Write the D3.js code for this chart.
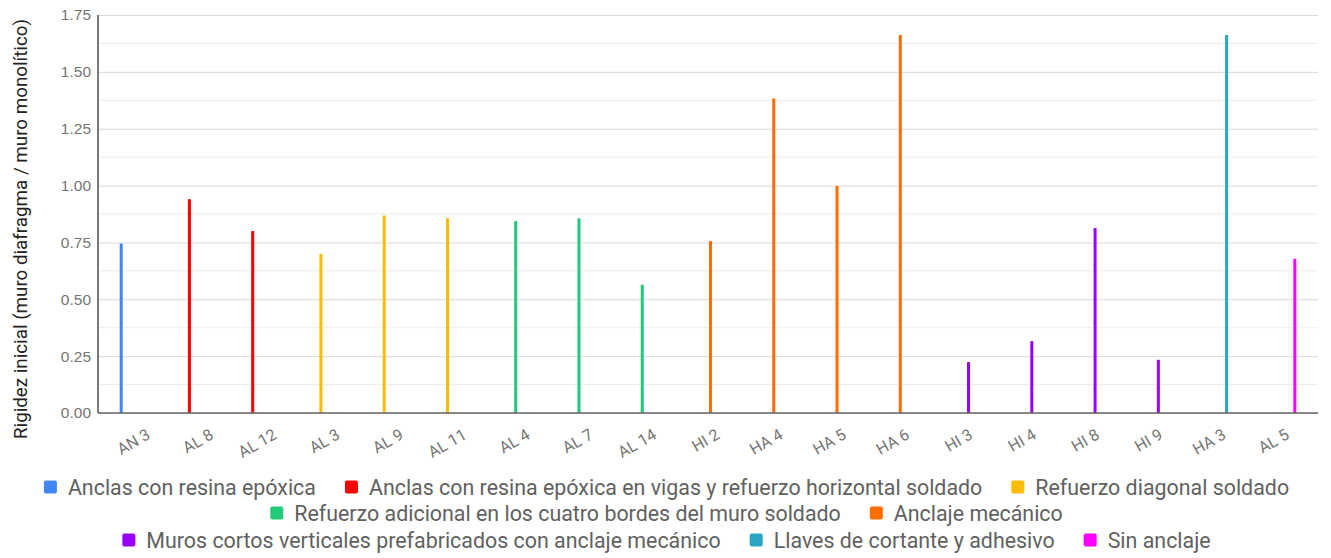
<!DOCTYPE html>
<html lang="es">
<head>
<meta charset="UTF-8">
<title>Rigidez inicial</title>
<script src="https://d3js.org/d3.v7.min.js"></script>
<style>
  body { margin: 0; background: #fff; }
  svg { font-family: Roboto, "Noto Sans", sans-serif; display: block; }
</style>
</head>
<body>
<div id="container"></div>
<script>
// data
const categories = ["AN 3","AL 8","AL 12","AL 3","AL 9","AL 11","AL 4","AL 7","AL 14","HI 2","HA 4","HA 5","HA 6","HI 3","HI 4","HI 8","HI 9","HA 3","AL 5"];
const seriesNames = [
  "Anclas con resina epóxica",
  "Anclas con resina epóxica en vigas y refuerzo horizontal soldado",
  "Refuerzo diagonal soldado",
  "Refuerzo adicional en los cuatro bordes del muro soldado",
  "Anclaje mecánico",
  "Muros cortos verticales prefabricados con anclaje mecánico",
  "Llaves de cortante y adhesivo",
  "Sin anclaje"
];
const seriesColors = ["#4285f4","#ff0000","#fbbc04","#22c97a","#ff6d01","#9900ff","#2aa5c4","#ff00ff"];
// which series each category belongs to, and its value
const categorySeries = [0,1,1,2,2,2,3,3,3,4,4,4,4,5,5,5,5,6,7];
const values = [0.745,0.94,0.80,0.70,0.868,0.856,0.844,0.856,0.564,0.756,1.383,0.998,1.662,0.224,0.316,0.813,0.234,1.662,0.678];
const yTicks = [0,0.25,0.5,0.75,1,1.25,1.5,1.75];

const W = 1331, H = 558;
const margin = {top: 15, right: 13, bottom: 145, left: 98};
const plotBottom = H - margin.bottom;

const svg = d3.select("#container").append("svg").attr("width", W).attr("height", H);

const x0 = d3.scaleBand().domain(categories)
  .range([margin.left, W - margin.right])
  .paddingInner(0).paddingOuter(0.14);
const groupW = x0.bandwidth() * 0.625;
const x1 = d3.scaleBand().domain(d3.range(seriesNames.length))
  .range([(x0.bandwidth() - groupW) / 2, (x0.bandwidth() + groupW) / 2]);
const y = d3.scaleLinear().domain([0, 1.75]).range([plotBottom, margin.top]);
const color = d3.scaleOrdinal().domain(d3.range(seriesNames.length)).range(seriesColors);

// minor gridlines
svg.append("g").selectAll("line")
  .data(d3.range(0.125, 1.75, 0.25))
  .enter().append("line")
  .attr("x1", margin.left).attr("x2", W - margin.right)
  .attr("y1", d => y(d)).attr("y2", d => y(d))
  .attr("stroke", "#ececec").attr("stroke-width", 1);

// major gridlines + labels via axis
const yAxis = svg.append("g")
  .attr("transform", `translate(${margin.left},0)`)
  .call(d3.axisLeft(y).tickValues(yTicks).tickFormat(d3.format(".2f"))
    .tickSize(-(W - margin.left - margin.right)).tickPadding(7));
yAxis.select(".domain").remove();
yAxis.selectAll(".tick line").attr("stroke", "#d9d9d9");
yAxis.selectAll(".tick text").attr("fill", "#757575").style("font-size", "15.5px");

// bars
const barW = 3;
svg.append("g").selectAll("rect")
  .data(categories)
  .enter().append("rect")
  .attr("x", (d, i) => x0(d) + x1(categorySeries[i]) + (x1.bandwidth() - barW) / 2)
  .attr("y", (d, i) => y(values[i]))
  .attr("width", barW)
  .attr("height", (d, i) => plotBottom - y(values[i]))
  .attr("fill", (d, i) => color(categorySeries[i]));

// axis lines
svg.append("line")
  .attr("x1", margin.left).attr("x2", margin.left)
  .attr("y1", margin.top).attr("y2", plotBottom)
  .attr("stroke", "#333").attr("stroke-width", 1.3);
svg.append("line")
  .attr("x1", margin.left).attr("x2", W - margin.right)
  .attr("y1", plotBottom).attr("y2", plotBottom)
  .attr("stroke", "#666").attr("stroke-width", 1.3);

// x labels, rotated
svg.append("g").selectAll("text")
  .data(categories)
  .enter().append("text")
  .attr("transform", d => `translate(${x0(d) + x0.bandwidth() / 2 + 10},${plotBottom + 20}) rotate(-30)`)
  .attr("text-anchor", "end")
  .attr("dy", "0.35em")
  .attr("fill", "#757575")
  .style("font-size", "16px")
  .text(d => d);

// y title
svg.append("text")
  .attr("transform", `translate(27,${(margin.top + plotBottom) / 2 + 15}) rotate(-90)`)
  .attr("text-anchor", "middle")
  .attr("fill", "#222")
  .style("font-size", "18.8px")
  .text("Rigidez inicial (muro diafragma / muro monolítico)");

// legend, three centered rows
const legendRows = [[0,1,2],[3,4],[5,6,7]];
const legendY = [487, 513, 540];
const fs = 21.4, sw = 13, gapSwatch = 11, gapItem = 29;
legendRows.forEach((row, r) => {
  const g = svg.append("g");
  let cx = 0;
  row.forEach(k => {
    const item = g.append("g").attr("transform", `translate(${cx},0)`);
    item.append("rect").attr("x", 0).attr("y", -sw / 2).attr("width", sw).attr("height", sw)
      .attr("rx", 2).attr("fill", seriesColors[k]);
    const t = item.append("text").attr("x", sw + gapSwatch).attr("dy", "0.35em")
      .attr("fill", "#616161").style("font-size", fs + "px").text(seriesNames[k]);
    cx += sw + gapSwatch + t.node().getComputedTextLength() + gapItem;
  });
  const total = cx - gapItem;
  g.attr("transform", `translate(${(W - total) / 2 + 1},${legendY[r]})`);
});
</script>
</body>
</html>
